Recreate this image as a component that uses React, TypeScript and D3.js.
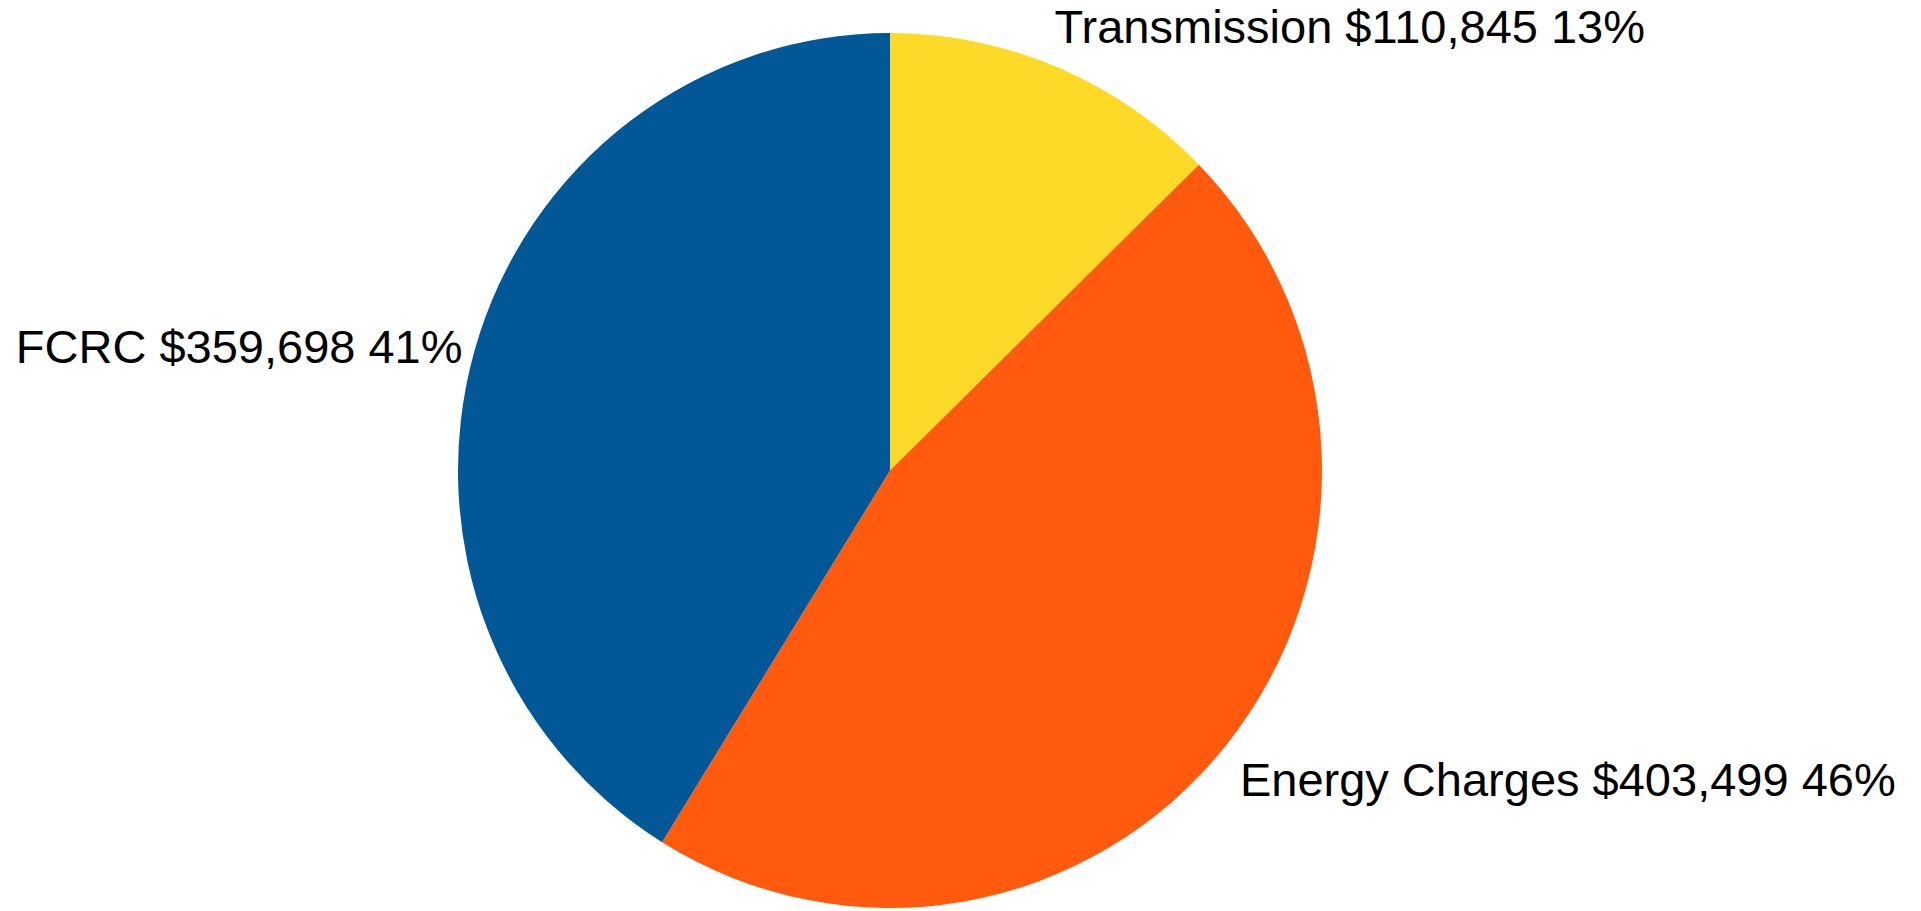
import React, { useEffect, useRef } from "react";
import * as d3 from "d3";

// slice data, clockwise from 12 o'clock
const categories = ["Transmission", "Energy Charges", "FCRC"];
const amounts = [110845, 403499, 359698];
const percentLabels = ["13%", "46%", "41%"];
const colors = ["#FDD928", "#FF5A0E", "#025897"];

// label nudges relative to the slice's outer mid point
const labelDx = [-3, 13, -12];
const labelDy = [-24, 52, 13];
const labelAnchor = ["start", "start", "end"];

const width = 1921;
const height = 911;

export default function App() {
  const ref = useRef<SVGSVGElement>(null);

  useEffect(() => {
    const root = d3.select(ref.current);
    root.selectAll("*").remove();

    const svg = root.attr("width", width).attr("height", height);

    const cx = 890;
    const cy = 470.5;
    const r = 432;
    const yStretch = 437.5 / 432;

    const data = categories.map((c, i) => ({ name: c, value: amounts[i], i }));

    const pie = d3
      .pie<{ name: string; value: number; i: number }>()
      .sort(null)
      .value((d) => d.value);

    const arcs = pie(data);

    const arc = d3
      .arc<d3.PieArcDatum<{ name: string; value: number; i: number }>>()
      .innerRadius(0)
      .outerRadius(r);

    const g = svg
      .append("g")
      .attr("transform", `translate(${cx}, ${cy}) scale(1, ${yStretch})`);

    g.selectAll("path")
      .data(arcs)
      .enter()
      .append("path")
      .attr("d", arc)
      .attr("fill", (d) => colors[d.data.i]);

    const fmt = d3.format("$,");

    svg
      .selectAll(".label")
      .data(arcs)
      .enter()
      .append("text")
      .attr("class", "label")
      .attr("x", (d) => {
        const a = (d.startAngle + d.endAngle) / 2;
        return cx + r * Math.sin(a) + labelDx[d.data.i];
      })
      .attr("y", (d) => {
        const a = (d.startAngle + d.endAngle) / 2;
        return cy - r * yStretch * Math.cos(a) + labelDy[d.data.i];
      })
      .attr("text-anchor", (d) => labelAnchor[d.data.i])
      .style("font-family", "'Liberation Sans', Arial, sans-serif")
      .style("font-size", "47px")
      .attr("fill", "#000")
      .text(
        (d) => `${d.data.name} ${fmt(d.data.value)} ${percentLabels[d.data.i]}`
      );
  }, []);

  return (
    <div style={{ position: "absolute", left: 0, top: 0 }}>
      <svg ref={ref}></svg>
    </div>
  );
}
